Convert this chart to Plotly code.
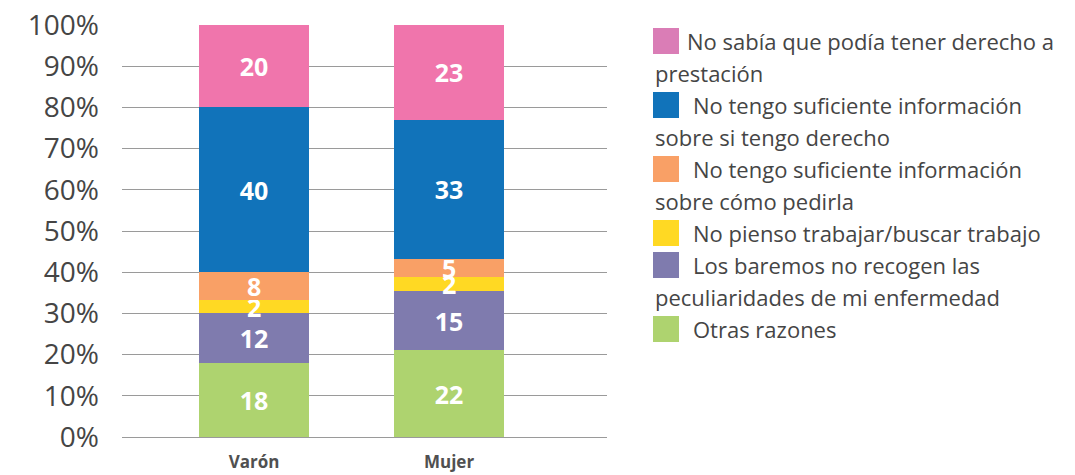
import plotly.graph_objects as go

# ---------------- data ----------------
categories = ["Varón", "Mujer"]

# stack order: bottom -> top
series_names = [
    "Otras razones",
    "Los baremos no recogen las peculiaridades de mi enfermedad",
    "No pienso trabajar/buscar trabajo",
    "No tengo suficiente información sobre cómo pedirla",
    "No tengo suficiente información sobre si tengo derecho",
    "No sabía que podía tener derecho a prestación",
]
# segment heights as drawn (percent of bar)
varon_values = [18, 12, 3.3, 6.7, 40, 20]
mujer_values = [21, 14.5, 3.3, 4.5, 33.7, 23]
# labels printed in the segments
varon_labels = ["18", "12", "2", "8", "40", "20"]
mujer_labels = ["22", "15", "2", "5", "33", "23"]

# legend lines as printed (top -> bottom)
legend_lines = [
    ["No sabía que podía tener derecho a", "prestación"],
    ["No tengo suficiente información", "sobre si tengo derecho"],
    ["No tengo suficiente información", "sobre cómo pedirla"],
    ["No pienso trabajar/buscar trabajo"],
    ["Los baremos no recogen las", "peculiaridades de mi enfermedad"],
    ["Otras razones"],
]

y_ticks = [0, 10, 20, 30, 40, 50, 60, 70, 80, 90, 100]

# ---------------- style ----------------
colors = ["#AED36F", "#7F7BAE", "#FFD923", "#F9A066", "#1173BA", "#F075AC"]
legend_colors = ["#DA7DB6", "#1173BA", "#F9A066", "#FFD923", "#7F7BAE", "#AED36F"]
FONT = "Open Sans"
TXT = "#454545"

W, H = 1075, 475
PL, PR, PT, PB = 122, 607, 25, 437  # plot area in pixels

fig = go.Figure()
for i, name in enumerate(series_names):
    fig.add_trace(go.Bar(
        name=name,
        x=categories,
        y=[varon_values[i], mujer_values[i]],
        text=[varon_labels[i], mujer_labels[i]],
        textposition="inside",
        insidetextanchor="middle",
        textangle=0,
        textfont=dict(family=FONT, size=25, color="white", weight="bold"),
        marker=dict(color=colors[i], line=dict(width=0)),
        width=0.56,
        showlegend=False,
        hoverinfo="skip",
    ))

fig.update_layout(
    barmode="stack",
    width=W, height=H,
    margin=dict(l=PL, r=W - PR, t=PT, b=H - PB, autoexpand=False),
    paper_bgcolor="white",
    plot_bgcolor="white",
    font=dict(family=FONT, color=TXT),
    uniformtext=dict(minsize=25, mode="show"),
    xaxis=dict(
        range=[-0.677, 1.81],
        automargin=False,
        showgrid=False,
        showline=False,
        zeroline=False,
        tickfont=dict(family=FONT, size=17, color="#505050", weight="bold"),
        ticklabelstandoff=13,
    ),
    yaxis=dict(
        range=[0, 100],
        automargin=False,
        tickvals=y_ticks,
        ticktext=[f"{v}%" for v in y_ticks],
        showgrid=True,
        gridcolor="#9a9a9a",
        gridwidth=1,
        zeroline=True,
        zerolinecolor="#9a9a9a",
        zerolinewidth=1,
        showline=False,
        tickfont=dict(family=FONT, size=28, color=TXT),
        ticklabelstandoff=22,
    ),
)

# ---------------- manual legend ----------------
def px_to_paper(x, y):
    return (x - PL) / (PR - PL), (PB - y) / (PB - PT)

sw_left, sw_size = 653, 26
line_h = 32
first_x = [685, 691, 691, 691, 691, 691]
y_cur = 41
for k, lines in enumerate(legend_lines):
    x0, y0 = px_to_paper(sw_left, y_cur - 13)
    x1, y1 = px_to_paper(sw_left + sw_size, y_cur + 13)
    fig.add_shape(type="rect", xref="paper", yref="paper",
                  x0=x0, x1=x1, y0=y1, y1=y0,
                  fillcolor=legend_colors[k], line=dict(width=0))
    for j, line in enumerate(lines):
        tx = first_x[k] if j == 0 else sw_left
        ax, ay = px_to_paper(tx, y_cur)
        fig.add_annotation(x=ax, y=ay, xref="paper", yref="paper",
                           text=line, showarrow=False,
                           xanchor="left", yanchor="middle",
                           font=dict(family=FONT, size=22, color=TXT))
        y_cur += line_h if (j < len(lines) - 1) else 0
    y_cur += line_h

# remove the page's default body margin so the figure sits at the window origin
fig.write_html("out.html",
               config={"displayModeBar": False},
               post_script="document.body.style.margin='0px';")
